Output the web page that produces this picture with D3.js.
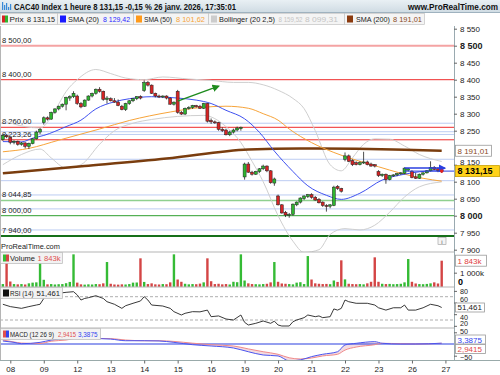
<!DOCTYPE html>
<html>
<head>
<meta charset="utf-8">
<script src="https://cdn.jsdelivr.net/npm/d3@7"></script>
<style>
body { margin:0; background:#fff; }
svg { font-family: "Liberation Sans", Arial, sans-serif; }
</style>
</head>
<body>
<svg id="chart" width="500" height="375"></svg>
<script>
// hourly candles [open, high, low, close], 7 janv 16h -> 26 janv 17h
var candles = [
 [8224,8240,8220,8236],[8236,8240,8228,8232],
 [8230,8232,8210,8216],[8216,8222,8210,8219],[8219,8221,8206,8210],[8210,8217,8206,8214],[8214,8216,8198,8204],[8204,8215,8196,8213],[8212,8228,8210,8226],[8226,8250,8224,8246],[8246,8258,8240,8254],
 [8274,8292,8268,8288],[8288,8292,8280,8284],[8284,8306,8282,8304],[8304,8316,8300,8314],[8314,8324,8310,8322],[8322,8330,8318,8328],[8328,8350,8310,8348],[8346,8354,8338,8350],[8350,8366,8346,8360],
 [8352,8356,8326,8330],[8330,8334,8316,8320],[8322,8342,8320,8340],[8340,8354,8338,8352],[8352,8362,8348,8360],[8360,8374,8356,8372],[8372,8378,8362,8366],[8366,8368,8338,8342],[8342,8352,8330,8346],
 [8344,8348,8336,8338],[8338,8346,8332,8334],[8334,8342,8322,8324],[8322,8326,8310,8312],[8312,8332,8308,8330],[8330,8340,8326,8338],[8338,8346,8334,8344],[8344,8352,8340,8350],[8350,8354,8342,8346],
 [8368,8398,8364,8392],[8392,8396,8380,8384],[8384,8386,8358,8360],[8360,8362,8348,8352],[8352,8356,8346,8350],[8350,8354,8346,8352],[8352,8354,8342,8346],[8346,8348,8326,8328],[8328,8336,8324,8334],
 [8366,8370,8300,8304],[8304,8308,8296,8299],[8299,8318,8296,8316],[8316,8322,8312,8318],[8318,8326,8314,8324],[8324,8326,8318,8320],[8322,8326,8314,8316],[8316,8332,8314,8330],[8330,8332,8274,8278],
 [8280,8286,8270,8276],[8276,8280,8270,8274],[8274,8276,8250,8254],[8254,8260,8246,8250],[8252,8256,8236,8238],[8238,8250,8234,8246],[8246,8256,8242,8252],[8252,8262,8248,8258],[8256,8262,8250,8260],
 [8114,8156,8106,8152],[8152,8158,8126,8128],[8128,8132,8118,8122],[8122,8132,8120,8130],[8130,8140,8126,8138],[8138,8150,8134,8146],[8146,8148,8128,8132],[8132,8134,8094,8097],[8096,8112,8088,8108],
 [8058,8062,8030,8032],[8032,8034,8006,8008],[8010,8014,7996,8002],[8002,8008,7994,8004],[8004,8036,8000,8034],[8032,8042,8028,8040],[8040,8054,8036,8052],[8050,8060,8046,8058],[8056,8064,8052,8062],
 [8062,8066,8050,8054],[8054,8058,8044,8046],[8048,8052,8036,8038],[8040,8042,8026,8030],[8030,8034,8012,8028],[8028,8034,8022,8032],[8030,8088,8028,8084],[8086,8090,8076,8080],[8080,8082,8068,8072],
 [8166,8186,8160,8176],[8176,8180,8158,8160],[8162,8166,8146,8150],[8156,8160,8148,8150],[8150,8160,8148,8156],[8156,8188,8152,8158],[8158,8162,8148,8150],[8152,8156,8144,8146],[8150,8152,8142,8146],
 [8130,8134,8114,8118],[8118,8124,8114,8122],[8122,8124,8094,8106],[8106,8120,8104,8118],[8118,8122,8114,8120],[8120,8126,8116,8124],[8124,8128,8120,8126],[8124,8142,8122,8140],[8134,8140,8130,8138],
 [8130,8134,8110,8112],[8114,8126,8108,8110],[8110,8124,8108,8122],[8122,8128,8118,8126],[8126,8134,8124,8132],[8132,8160,8130,8142],[8142,8146,8134,8136],[8138,8142,8128,8133],[8134,8138,8126,8131.15]
];
// volume in thousands
var volume = [200,2240, 380,200,180,200,170,250,300,320,2240, 500,180,200,170,190,200,260,350,2290,
 300,180,160,180,170,200,190,250,1750, 220,170,160,180,170,200,300,310,2010, 350,200,250,180,170,200,190,320,2290,
 520,360,220,180,200,190,230,320,2010, 400,200,220,180,200,170,360,330,2290, 450,250,200,190,180,200,220,320,1750,
 360,240,220,200,180,300,330,200,2170, 520,250,220,200,210,190,450,350,1870, 530,220,200,190,200,180,250,360,2080,
 360,220,200,210,190,200,220,320,1960, 360,240,200,190,210,250,320,240,1843];

// indicators: [candle index, value]
var sma20 = [[0,8218],[5,8217],[8,8228],[11,8236],[17,8262],[21,8281],[25,8314],[30,8335],[34,8344],[40,8350],[47,8346],[52,8340],[56,8330],[60,8310],[65,8285],[69,8245],[73,8190],[78,8130],[82,8088],[87,8060],[91,8048],[96,8066],[102,8105],[108,8122],[116,8132],[118,8129.42]];
var sma50 = [[0,8188],[7,8198],[15,8222],[26,8255],[34,8280],[45,8305],[53,8318],[60,8322],[66,8316],[70,8300],[74,8281],[77,8255],[83,8215],[89,8186],[101,8144],[107,8125],[113,8110],[118,8101.62]];
var sma200 = [[0,8125],[22,8146],[44,8168],[66,8195],[80,8198],[95,8197],[108,8194],[118,8191.01]];
var bollUp = [[0,8280],[6,8262],[10,8258],[13,8290],[15,8328],[17,8365],[20,8400],[25,8430],[29,8418],[33,8405],[38,8400],[43,8408],[50,8402],[56,8398],[62,8392],[66,8392],[70,8385],[74,8369],[78,8345],[81,8315],[84,8250],[88,8150],[91,8132],[94,8170],[97,8210],[100,8226],[104,8225],[108,8205],[112,8180],[118,8159.52]];
var bollLo = [[0,8150],[5,8180],[10,8196],[13,8170],[17,8140],[21,8150],[26,8210],[30,8250],[35,8272],[40,8283],[47,8292],[54,8295],[60,8262],[64,8215],[67,8160],[70,8100],[74,8000],[78,7925],[81,7892],[85,7900],[88,7945],[92,7962],[96,7958],[100,7972],[104,8010],[108,8055],[112,8085],[118,8099.31]];
var rsi = [[0,57],[2,53],[5,50],[7,53],[9,55.7],[10,57],[11,67],[12,74],[15,76],[17,77.5],[19,78.6],[20,73],[21,64.3],[22,67],[23,68.3],[25,71.7],[27,67],[28,61.4],[30,57],[32,50],[33,54.5],[35,58.7],[37,62.6],[38,70],[39,64.3],[40,55.7],[43,54],[45,50],[46,44.3],[48,38.6],[49,41.5],[51,44.3],[53,44],[55,47],[56,35.7],[58,37],[60,31.7],[62,30],[64,38.6],[65,26],[66,21.4],[68,24.3],[70,28.3],[72,24.3],[73,28],[74,21.4],[75,19.7],[77,19.7],[78,27],[79,30],[81,34],[82,38.6],[84,35.7],[85,37],[86,34],[88,35.7],[89,49],[90,47],[91,50],[92,64.3],[93,61.4],[95,58.7],[98,58.7],[100,55.7],[101,51],[103,47],[105,51],[107,51],[108,55.7],[109,47],[111,47],[113,51],[115,57],[117,54.5],[118,51.461]];
var macdAt   = [0,3,5,10,13,17,20,24,29,33,38,42,46,51,56,62,66,70,74,77,80,83,86,90,92,95,100,102,107,111,118];
var macdBlue = [12.8,7,1.4,7,17,24,29,24,21,14,14,13,7,-3,-8.5,-17,-33,-47,-51,-72,-68,-54,-44,-33,-4,3,10,3,0,0,3.3875];
var macdRed  = [17,8.5,4,2,12,17,25,24,23,17,14,14,11,3.5,-3,-8.5,-21,-33,-44,-59,-64,-60,-51,-44,-26,-13,-3,3,1.5,0,2.9415];

var dayLabels = ["08","09","12","13","14","15","16","19","20","21","22","23","26","27"];
var redLevels = [8400, 8260, 8223.26];
var blueLevels = [8272, 8247, 8239, 8166, 8103, 8061, 8020, 7958];
var levelLabels = [[8500,"8 500,00"],[8400,"8 400,00"],[8260,"8 260,00"],[8223.26,"8 223,26"],[8044.85,"8 044,85"],[8000,"8 000,00"],[7940,"7 940,00"]];
var priceTicks = [7900,7950,8000,8050,8100,8150,8250,8300,8350,8400,8450,8500,8550];

var svg = d3.select("#chart");
var R = 454; // right edge of plot area
var fr = d3.formatLocale({decimal: ",", thousands: " ", grouping: [3], currency: ["", ""]});
var f0 = fr.format(",.0f");

var x = d3.scaleLinear().domain([0, 118]).range([2.86, 441.7]);
var yP = d3.scaleLinear().domain([8000, 8500]).range([215.7, 45.7]);
var yV = d3.scaleLinear().domain([0, 1843]).range([286.9, 260.7]);
var yR = d3.scaleLinear().domain([30, 70]).range([320, 296.7]);
var yM = d3.scaleLinear().domain([-50, 50]).range([355.7, 332.3]);

var defs = svg.append("defs");
function clip(id, y0, y1) {
  defs.append("clipPath").attr("id", id).append("rect").attr("x", 0).attr("y", y0).attr("width", R).attr("height", y1 - y0);
}
clip("cp", 26, 252); clip("cv", 252, 287); clip("cr", 287, 328); clip("cm", 328, 360);
defs.append("marker").attr("id", "ag").attr("viewBox", "0 0 10 10").attr("refX", 8).attr("refY", 5)
  .attr("markerWidth", 5).attr("markerHeight", 5).attr("orient", "auto")
  .append("path").attr("d", "M0,0L10,5L0,10z").attr("fill", "#1e8c1e");
defs.append("marker").attr("id", "ab").attr("viewBox", "0 0 10 10").attr("refX", 8).attr("refY", 5)
  .attr("markerWidth", 5).attr("markerHeight", 5).attr("orient", "auto")
  .append("path").attr("d", "M0,0L10,5L0,10z").attr("fill", "#2a3fe0");

// ---------- price panel ----------
var gp = svg.append("g").attr("clip-path", "url(#cp)");
function hline(g, y, color, w) {
  g.append("line").attr("x1", 0).attr("x2", R).attr("y1", y).attr("y2", y).attr("stroke", color).attr("stroke-width", w);
}
blueLevels.forEach(function(v) { hline(gp, yP(v), "#bcccf2", 1); });
hline(gp, yP(8500), "#f4a3a3", 2);
redLevels.forEach(function(v) { hline(gp, yP(v), "#ee2a2a", 1); });
hline(gp, yP(8044.85), "#8fd08f", 1.5);
hline(gp, yP(8000), "#2e9e2e", 1);
hline(gp, yP(7940), "#16701a", 2);

levelLabels.forEach(function(d) {
  gp.append("text").attr("x", 2).attr("y", yP(d[0]) - 3).attr("font-size", 7.6).attr("fill", "#222").text(d[1]);
});

var line = d3.line().x(function(d) { return x(d[0]); }).y(function(d) { return yP(d[1]); }).curve(d3.curveMonotoneX);
gp.append("path").attr("d", line(bollUp)).attr("fill", "none").attr("stroke", "#cfcfcf").attr("stroke-width", 1);
gp.append("path").attr("d", line(bollLo)).attr("fill", "none").attr("stroke", "#cfcfcf").attr("stroke-width", 1);
gp.append("path").attr("d", line(sma200)).attr("fill", "none").attr("stroke", "#7a3d0e").attr("stroke-width", 2.5);
gp.append("path").attr("d", line(sma50)).attr("fill", "none").attr("stroke", "#f7a43a").attr("stroke-width", 1);
gp.append("path").attr("d", line(sma20)).attr("fill", "none").attr("stroke", "#3f51f0").attr("stroke-width", 1);

var cg = gp.selectAll("g.c").data(candles).enter().append("g");
cg.append("line")
  .attr("x1", function(d, i) { return x(i); }).attr("x2", function(d, i) { return x(i); })
  .attr("y1", function(d) { return yP(d[1]); }).attr("y2", function(d) { return yP(d[2]); })
  .attr("stroke", "#222").attr("stroke-width", 0.8);
cg.append("rect")
  .attr("x", function(d, i) { return x(i) - 1.5; }).attr("width", 3)
  .attr("y", function(d) { return yP(Math.max(d[0], d[3])); })
  .attr("height", function(d) { return Math.max(1, Math.abs(yP(d[0]) - yP(d[3]))); })
  .attr("fill", function(d) { return d[3] >= d[0] ? "#2fb52f" : "#d62424"; })
  .attr("stroke", "#222").attr("stroke-width", 0.5);

// drawn arrows and last price
gp.append("line").attr("x1", x(47)).attr("y1", yP(8337)).attr("x2", x(58)).attr("y2", yP(8381))
  .attr("stroke", "#1e8c1e").attr("stroke-width", 1.5).attr("marker-end", "url(#ag)");
gp.append("line").attr("x1", x(108)).attr("y1", yP(8140)).attr("x2", x(118) + 3).attr("y2", yP(8140))
  .attr("stroke", "#2a3fe0").attr("stroke-width", 1.5).attr("marker-end", "url(#ab)");
gp.append("line").attr("x1", x(108)).attr("x2", R).attr("y1", yP(8131.15)).attr("y2", yP(8131.15))
  .attr("stroke", "#2a3fe0").attr("stroke-width", 1);
gp.append("circle").attr("cx", x(118)).attr("cy", yP(8131.15)).attr("r", 1.8).attr("fill", "#e02020");

svg.append("text").attr("x", 1).attr("y", 249).attr("font-size", 7.4).attr("fill", "#222").text("ProRealTime.com");
svg.append("rect").attr("x", 438).attr("y", 237.5).attr("width", 8).attr("height", 7).attr("fill", "#f4f4f4").attr("stroke", "#999").attr("stroke-width", 0.6);
svg.append("text").attr("x", 442).attr("y", 243.5).attr("font-size", 6).attr("text-anchor", "middle").attr("fill", "#555").text("i");

// ---------- volume panel ----------
var gv = svg.append("g").attr("clip-path", "url(#cv)");
gv.selectAll("rect").data(volume).enter().append("rect")
  .attr("x", function(d, i) { return x(i) - 1.2; }).attr("width", 2.4)
  .attr("y", function(d) { return yV(d); })
  .attr("height", function(d) { return yV(0) - yV(d); })
  .attr("fill", function(d, i) { return candles[i][3] >= candles[i][0] ? "#35bb35" : "#d44545"; });

// ---------- RSI panel ----------
var gr = svg.append("g").attr("clip-path", "url(#cr)");
[70, 30].forEach(function(v) {
  gr.append("line").attr("x1", 0).attr("x2", R).attr("y1", yR(v)).attr("y2", yR(v))
    .attr("stroke", "#999").attr("stroke-dasharray", "3,2").attr("stroke-width", 0.8);
});
gr.append("path").attr("fill", "none").attr("stroke", "#222").attr("stroke-width", 0.9)
  .attr("d", d3.line().x(function(d) { return x(d[0]); }).y(function(d) { return yR(d[1]); })(rsi));

// ---------- MACD panel ----------
var gm = svg.append("g").attr("clip-path", "url(#cm)");
var mIdx = d3.range(macdAt.length);
gm.append("path").attr("fill", "#e7b8c4").attr("opacity", 0.5)
  .attr("d", d3.area().x(function(k) { return x(macdAt[k]); }).y0(function(k) { return yM(macdRed[k]); }).y1(function(k) { return yM(macdBlue[k]); }).curve(d3.curveMonotoneX)(mIdx));
gm.append("line").attr("x1", 0).attr("x2", R).attr("y1", yM(0)).attr("y2", yM(0)).attr("stroke", "#2a3fe0").attr("stroke-width", 1.2);
gm.append("path").attr("fill", "none").attr("stroke", "#f08a8a").attr("stroke-width", 1)
  .attr("d", d3.line().x(function(k) { return x(macdAt[k]); }).y(function(k) { return yM(macdRed[k]); }).curve(d3.curveMonotoneX)(mIdx));
gm.append("path").attr("fill", "none").attr("stroke", "#4a55f0").attr("stroke-width", 1)
  .attr("d", d3.line().x(function(k) { return x(macdAt[k]); }).y(function(k) { return yM(macdBlue[k]); }).curve(d3.curveMonotoneX)(mIdx));

// ---------- frames ----------
[252, 287, 328].forEach(function(y) {
  svg.append("line").attr("x1", 0).attr("x2", R).attr("y1", y).attr("y2", y).attr("stroke", "#b5b5b5").attr("stroke-width", 1);
});
svg.append("line").attr("x1", 0).attr("x2", 500).attr("y1", 360.5).attr("y2", 360.5).attr("stroke", "#9aa").attr("stroke-width", 1);
svg.append("line").attr("x1", 0.5).attr("x2", 0.5).attr("y1", 26).attr("y2", 360).attr("stroke", "#b5b5b5");
svg.append("line").attr("x1", R + 0.5).attr("x2", R + 0.5).attr("y1", 26).attr("y2", 360).attr("stroke", "#9aaab0").attr("stroke-width", 1);

// ---------- right axes ----------
// nudge: small label offsets where the value tags sit on top of tick labels
function raxis(scale, ticks, fmt, boldVals, nudge, size) {
  nudge = nudge || {};
  size = size || 8;
  var g = svg.append("g").attr("transform", "translate(" + R + ",0)")
    .call(d3.axisRight(scale).tickValues(ticks).tickSize(3).tickFormat(fmt));
  g.select(".domain").remove();
  g.selectAll("line").attr("stroke", "#666");
  g.selectAll("text").attr("fill", "#222").attr("font-family", "Liberation Sans, Arial, sans-serif")
    .attr("font-weight", function(d) { return boldVals.indexOf(d) >= 0 ? "bold" : null; })
    .attr("font-size", function(d) { return boldVals.indexOf(d) >= 0 ? 9 : size; })
    .attr("y", function(d) { return nudge[d] || 0; });
  return g;
}
raxis(yP, priceTicks, f0, [8000, 8500], {8150: -3});
raxis(yV, [1000], function(d) { return f0(d) + "k"; }, []);
svg.append("text").attr("x", 458).attr("y", 285).attr("font-size", 9).attr("font-weight", "bold").text("0");
raxis(yR, [80, 60, 40, 20], f0, [], {80: 0.5, 60: -3.8, 40: 3.4, 20: -2.4}, 7.2);
raxis(yM, [50, -50], f0, [], {50: -1, "-50": 1.2}, 7.2);

function tag(y, txt, color, bg, border, bold, w, h) {
  h = h || 11;
  svg.append("rect").attr("x", 455.5).attr("y", y - h / 2).attr("width", w).attr("height", h)
    .attr("fill", bg).attr("stroke", border).attr("stroke-width", 0.8);
  svg.append("text").attr("x", 457.5).attr("y", y + 3).attr("font-size", bold ? 9 : 8)
    .attr("font-weight", bold ? "bold" : null).attr("fill", color).text(txt);
}
tag(yP(8191.01), "8 191,01", "#8a4a1c", "#fff", "#999", false, 36);
tag(yP(8131.15), "8 131,15", "#000", "#ffd21a", "#c9a000", true, 44);
tag(yV(1843), "1 843k", "#e04040", "#fff", "#999", false, 31);
tag(yR(51.461), "51,461", "#222", "#fff", "#999", false, 29, 9);
tag(339.5, "3,3875", "#3344ee", "#fff", "#999", false, 30, 9);
tag(349, "2,9415", "#e04848", "#fff", "#999", false, 30, 9);

// ---------- x axis ----------
var xg = svg.append("g").attr("transform", "translate(0,360.5)")
  .call(d3.axisBottom(x).tickValues(d3.range(dayLabels.length).map(function(k) { return 2 + 9 * k; }))
  .tickSize(3).tickFormat(function(d) { return dayLabels[(d - 2) / 9]; }));
xg.select(".domain").remove();
xg.selectAll("line").attr("stroke", "#666");
xg.selectAll("text").attr("font-size", 8).attr("fill", "#222").attr("font-family", "Liberation Sans, Arial, sans-serif");

// ---------- legends: boxes with text parts [text, colour, x, width] ----------
function partText(y, parts, size) {
  parts.forEach(function(p) {
    svg.append("text").attr("x", p[2]).attr("y", y).attr("font-size", size).attr("fill", p[1])
      .attr("textLength", p[3]).attr("lengthAdjust", "spacingAndGlyphs").text(p[0]);
  });
}
function legendBox(x0, y0, w) {
  svg.append("rect").attr("x", x0).attr("y", y0).attr("width", w).attr("height", 11)
    .attr("fill", "#f2f2f2").attr("stroke", "#b8b8b8").attr("stroke-width", 0.7);
}
legendBox(0.5, 252.5, 62);
partText(261, [["Volume", "#222", 10, 25], ["1 843k", "#e05050", 37.5, 23]], 7.5);
svg.append("rect").attr("x", 3).attr("y", 254.5).attr("width", 3).attr("height", 7).attr("fill", "#35bb35");
svg.append("rect").attr("x", 6).attr("y", 254.5).attr("width", 3).attr("height", 7).attr("fill", "#d44545");
legendBox(0.5, 287.5, 62);
partText(296, [["RSI (14)", "#222", 10, 23.5], ["51,461", "#222", 36.5, 23.5]], 7.5);
svg.append("rect").attr("x", 3).attr("y", 289.5).attr("width", 6).attr("height", 7).attr("fill", "#111");
legendBox(0.5, 328.5, 100);
partText(337, [["MACD (12 26 9)", "#222", 10, 44], ["2,9415", "#e05050", 58, 18], ["3,3875", "#3344ee", 78, 19.5]], 7);
svg.append("rect").attr("x", 3).attr("y", 330.5).attr("width", 3).attr("height", 7).attr("fill", "#e05050");
svg.append("rect").attr("x", 6).attr("y", 330.5).attr("width", 3).attr("height", 7).attr("fill", "#3344ee");

// ---------- header ----------
var grad = defs.append("linearGradient").attr("id", "hd").attr("x1", 0).attr("x2", 0).attr("y1", 0).attr("y2", 1);
grad.append("stop").attr("offset", 0).attr("stop-color", "#e9f0f4");
grad.append("stop").attr("offset", 1).attr("stop-color", "#cfdbe3");
svg.append("rect").attr("x", 0).attr("y", 0).attr("width", 500).attr("height", 12.5).attr("fill", "url(#hd)");
svg.append("line").attr("x1", 0).attr("x2", 500).attr("y1", 12.5).attr("y2", 12.5).attr("stroke", "#9fb2bf");
svg.append("rect").attr("x", 0).attr("y", 13).attr("width", 500).attr("height", 13).attr("fill", "#fff");
[[2, 8], [4, 5], [6, 7], [8, 3], [10, 6]].forEach(function(b) {
  svg.append("rect").attr("x", b[0]).attr("y", 10 - b[1]).attr("width", 1.2).attr("height", b[1]).attr("fill", "#3a8ad8");
});
svg.append("text").attr("x", 14).attr("y", 9.5).attr("font-size", 8.2).attr("font-weight", "bold").attr("fill", "#111")
  .attr("textLength", 222).attr("lengthAdjust", "spacingAndGlyphs")
  .text("CAC40 Index 1 heure 8 131,15 -0,15 % 26 janv. 2026, 17:35:01");
svg.append("text").attr("x", 498).attr("y", 9.5).attr("font-size", 8.2).attr("font-weight", "bold").attr("fill", "#111")
  .attr("text-anchor", "end").text("www.ProRealTime.com");

// main legend row
var items = [
  {x: 0, w: 57, icon: null, parts: [["Prix", "#222", 9.5, 14], ["8 131,15", "#222", 27, 28]]},
  {x: 57, w: 76, icon: "#1a1aff", parts: [["SMA (20)", "#222", 68, 31], ["8 129,42", "#2a2aff", 103, 27]]},
  {x: 133, w: 75, icon: "#ff9a1a", parts: [["SMA (50)", "#222", 144, 28], ["8 101,62", "#f7a43a", 176, 29]]},
  {x: 208, w: 136, icon: "#cccccc", parts: [["Bollinger (20 2,5)", "#222", 219, 56], ["8 159,52", "#c4c4c4", 278.5, 24], ["8 099,31", "#c4c4c4", 305, 33]]},
  {x: 344, w: 80, icon: "#8b3a0e", parts: [["SMA (200)", "#222", 356, 34], ["8 191,01", "#8a4a1c", 393, 29]]}
];
items.forEach(function(it) {
  svg.append("rect").attr("x", it.x + 0.5).attr("y", 13.5).attr("width", it.w).attr("height", 11)
    .attr("fill", "#f4f4f4").attr("stroke", "#c4c4c4").attr("stroke-width", 0.7);
  if (it.icon) {
    svg.append("rect").attr("x", it.x + 3).attr("y", 15.5).attr("width", 6).attr("height", 7).attr("fill", it.icon);
  } else {
    svg.append("rect").attr("x", it.x + 2).attr("y", 15.5).attr("width", 3).attr("height", 7).attr("fill", "#d62424");
    svg.append("rect").attr("x", it.x + 5).attr("y", 15.5).attr("width", 3).attr("height", 7).attr("fill", "#2fb52f");
  }
  partText(22, it.parts, 7.8);
});
</script>
</body>
</html>
